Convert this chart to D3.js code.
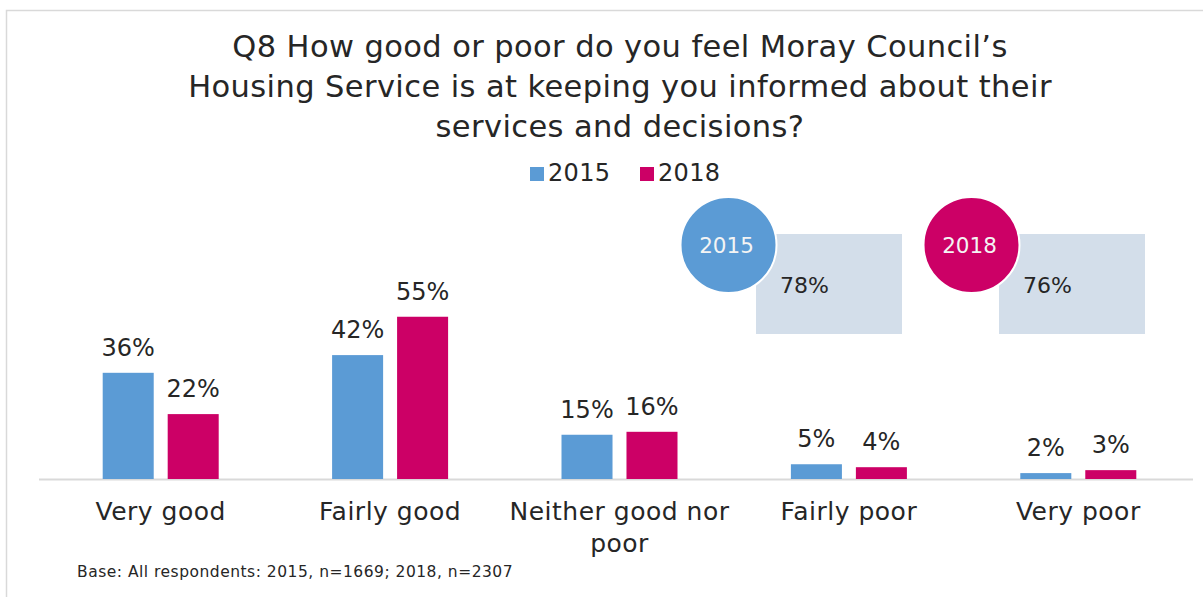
<!DOCTYPE html>
<html>
<head>
<meta charset="utf-8">
<script src="https://cdn.jsdelivr.net/npm/d3@7"></script>
<style>
  html, body { margin: 0; padding: 0; background: #fff; }
  svg { display: block; }
  text { font-family: "DejaVu Sans", sans-serif; fill: #262626; }
</style>
</head>
<body>
<svg id="chart" width="1203" height="597"></svg>
<script>
// ---- data ----
const categories = ["Very good", "Fairly good", "Neither good nor poor", "Fairly poor", "Very poor"];
const seriesNames = ["2015", "2018"];
const values2015 = [36, 42, 15, 5, 2];
const values2018 = [22, 55, 16, 4, 3];
const summaryYears = ["2015", "2018"];
const summaryValues = [78, 76];
const titleLines = [
  "Q8 How good or poor do you feel Moray Council\u2019s",
  "Housing Service is at keeping you informed about their",
  "services and decisions?"
];
const baseNote = "Base: All respondents: 2015, n=1669; 2018, n=2307";

// ---- styling ----
const colors = { "2015": "#5B9BD5", "2018": "#CC0066" };

const svg = d3.select("#chart");
const W = 1203, H = 597;

// frame
svg.append("path")
  .attr("d", `M6.5,${H} L6.5,10.5 L${W},10.5`)
  .attr("fill", "none").attr("stroke", "#d9d9d9").attr("stroke-width", 1.5);

// title
svg.append("g").selectAll("text").data(titleLines).join("text")
  .attr("x", 620).attr("y", (d, i) => 57 + i * 40)
  .attr("text-anchor", "middle")
  .style("font-size", "30.5px")
  .style("letter-spacing", "0.4px")
  .text(d => d);

// legend
const legend = svg.append("g");
const legendX = d3.scaleOrdinal().domain(seriesNames).range([530, 640]);
seriesNames.forEach(s => {
  legend.append("rect").attr("x", legendX(s)).attr("y", 167).attr("width", 14).attr("height", 14)
    .attr("fill", colors[s]);
  legend.append("text").attr("x", legendX(s) + 18).attr("y", 181)
    .style("font-size", "24px").style("letter-spacing", "0.3px").text(s);
});

// scales
const x0 = d3.scaleBand().domain(categories).range([46, 1193]).paddingInner(0).paddingOuter(0);
const groupW = 116;
const x1 = d3.scaleBand().domain(seriesNames).range([0, groupW]).paddingInner(0.215).paddingOuter(0);
const y = d3.scaleLinear().domain([0, 60]).range([479, 302]);

const rows = categories.map((c, i) => ({ cat: c, vals: [
  { s: "2015", v: values2015[i] },
  { s: "2018", v: values2018[i] }
]}));

// axis baseline
svg.append("line")
  .attr("x1", 39).attr("x2", 1193).attr("y1", y(0) + 0.5).attr("y2", y(0) + 0.5)
  .attr("stroke", "#d9d9d9").attr("stroke-width", 2);

const groups = svg.append("g").selectAll("g").data(rows).join("g")
  .attr("transform", d => `translate(${x0(d.cat) + (x0.bandwidth() - groupW) / 2},0)`);

groups.selectAll("rect").data(d => d.vals).join("rect")
  .attr("x", d => x1(d.s))
  .attr("y", d => y(d.v))
  .attr("width", x1.bandwidth())
  .attr("height", d => y(0) - y(d.v))
  .attr("fill", d => colors[d.s]);

groups.selectAll("text.val").data(d => d.vals).join("text")
  .attr("class", "val")
  .attr("x", d => x1(d.s) + x1.bandwidth() / 2)
  .attr("y", d => y(d.v) - 17)
  .attr("text-anchor", "middle")
  .style("font-size", "24px")
  .text(d => d.v + "%");

// category axis labels (wrapped)
const xAxis = d3.axisBottom(x0).tickSize(0).tickPadding(0);
const axisG = svg.append("g").attr("transform", `translate(0,${y(0)})`).call(xAxis);
axisG.select(".domain").remove();
axisG.selectAll(".tick text")
  .style("font-size", "25px")
  .style("letter-spacing", "0.5px")
  .style("font-family", "'DejaVu Sans', sans-serif")
  .attr("fill", "#262626")
  .attr("dy", null)
  .attr("y", 41)
  .each(function(d) {
    const t = d3.select(this);
    const words = d.split(" ");
    t.text(null);
    let line = [], lines = [];
    const maxW = 225;
    const tmp = t.append("tspan");
    words.forEach(w => {
      line.push(w);
      tmp.text(line.join(" "));
      if (tmp.node().getComputedTextLength() > maxW && line.length > 1) {
        line.pop(); lines.push(line.join(" ")); line = [w];
      }
    });
    lines.push(line.join(" "));
    tmp.remove();
    lines.forEach((l, i) => {
      t.append("tspan").attr("x", 0).attr("y", 41 + i * 32).text(l);
    });
  });

// summary boxes (circle + rect)
const sx = d3.scalePoint().domain(summaryYears).range([728.5, 971.5]);
const summary = svg.append("g").selectAll("g").data(summaryYears.map((yr, i) => ({ yr, v: summaryValues[i] })))
  .join("g").attr("transform", d => `translate(${sx(d.yr)},245)`);
summary.append("rect").attr("x", 27.5).attr("y", -11).attr("width", 146).attr("height", 100)
  .attr("fill", "#D3DEEA");
summary.append("circle").attr("r", 48).attr("fill", d => colors[d.yr])
  .attr("stroke", "#ffffff").attr("stroke-width", 2);
summary.append("text").attr("x", -2).attr("y", 8).attr("text-anchor", "middle")
  .style("font-size", "21.5px").style("fill", "#f4f4f4").text(d => d.yr);
summary.append("text").attr("x", 51.5).attr("y", 48)
  .style("font-size", "22px").style("fill", "#262626").text(d => d.v + "%");

// base note
svg.append("text").attr("x", 77).attr("y", 577)
  .style("font-size", "15.5px").style("letter-spacing", "0.5px").text(baseNote);
</script>
</body>
</html>
